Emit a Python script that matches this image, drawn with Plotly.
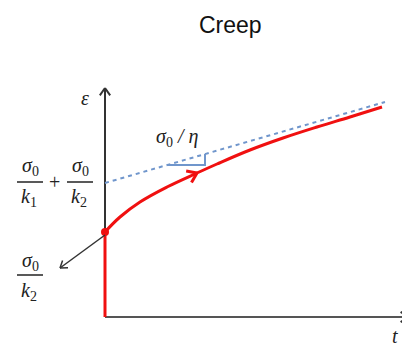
import numpy as np
import plotly.graph_objects as go

# datos (t, deformacion) en unidades arbitrarias
t_inst = [0, 0]
eps_inst = [0, 85]

t_creep = [0, 15, 35, 62, 92, 112, 145, 178, 212, 245, 277]
eps_creep = [85, 100, 115, 130, 144, 153, 167, 179, 190, 200, 210]

t_asint = [0, 280]
eps_asint = [134, 215]

# triangulo de pendiente sigma0/eta
t_tri = [62, 100, 100]
eps_tri = [152, 152, 163]

t_max, eps_max = 303, 229

ROJO = "#f01010"
AZUL = "#7096cc"
NEGRO = "#333333"


def chevron(tip, desde, largo=9, ang=35):
    # flecha abierta en la punta tip, apuntando desde 'desde'
    d = np.array(tip, float) - np.array(desde, float)
    d = d / np.linalg.norm(d)
    xs, ys = [], []
    for s in (1, -1):
        a = np.radians(180 + s * ang)
        r = np.array([d[0] * np.cos(a) - d[1] * np.sin(a), d[0] * np.sin(a) + d[1] * np.cos(a)])
        p = np.array(tip) + largo * r
        xs += [p[0], tip[0], None]
        ys += [p[1], tip[1], None]
    return xs, ys


fig = go.Figure()

# ejes dibujados
fig.add_trace(go.Scatter(x=[0, 0], y=[0, eps_max], mode="lines", line=dict(color=NEGRO, width=2)))
fig.add_trace(go.Scatter(x=[0, t_max], y=[0, 0], mode="lines", line=dict(color="#555555", width=2)))
for tip, desde in [((0, eps_max), (0, 0)), ((t_max, 0), (0, 0))]:
    cx, cy = chevron(tip, desde)
    fig.add_trace(go.Scatter(x=cx, y=cy, mode="lines", line=dict(color=NEGRO, width=2)))

# asintota
fig.add_trace(go.Scatter(x=t_asint, y=eps_asint, mode="lines",
                         line=dict(color=AZUL, width=2, dash="4px,4px")))
fig.add_trace(go.Scatter(x=t_tri, y=eps_tri, mode="lines", line=dict(color=AZUL, width=2)))

# curva de fluencia
fig.add_trace(go.Scatter(x=t_inst, y=eps_inst, mode="lines", line=dict(color=ROJO, width=3)))
fig.add_trace(go.Scatter(x=t_creep, y=eps_creep, mode="lines",
                         line=dict(color=ROJO, width=3, shape="spline", smoothing=1.1)))
fig.add_trace(go.Scatter(x=[t_inst[-1]], y=[eps_inst[-1]], mode="markers",
                         marker=dict(color=ROJO, size=8)))
cx, cy = chevron((t_creep[4], eps_creep[4]), (t_creep[3], eps_creep[3]), largo=11)
fig.add_trace(go.Scatter(x=cx, y=cy, mode="lines", line=dict(color=ROJO, width=3)))

# flecha hacia sigma0/k2
fig.add_trace(go.Scatter(x=[0, -45], y=[82, 49], mode="lines", line=dict(color=NEGRO, width=1.5)))
cx, cy = chevron((-45, 49), (0, 82), largo=8)
fig.add_trace(go.Scatter(x=cx, y=cy, mode="lines", line=dict(color=NEGRO, width=1.5)))

fuente = dict(family="Liberation Serif", size=20, color="#222222")
textos = [
    (-20, 219, "<i>ε</i>"),
    (290, -19, "<i>t</i>"),
    (72, 180, "<i>σ</i><sub>0</sub> <i>/ η</i>"),
    (-75, 56, "<i>σ</i><sub>0</sub>"),
    (-76, 26, "<i>k</i><sub>2</sub>"),
    (-75, 151, "<i>σ</i><sub>0</sub>"),
    (-76, 120, "<i>k</i><sub>1</sub>"),
    (-25, 151, "<i>σ</i><sub>0</sub>"),
    (-26, 120, "<i>k</i><sub>2</sub>"),
    (-51, 135, "+"),
]
for x, y, s in textos:
    fig.add_annotation(x=x, y=y, text=s, showarrow=False, font=fuente)
for x0, x1, y in [(-88, -62, 42), (-88, -62, 135), (-38, -12, 135)]:
    fig.add_shape(type="line", x0=x0, x1=x1, y0=y, y1=y, line=dict(color="#222222", width=1.5))

fig.add_annotation(x=125, y=292, text="Creep", showarrow=False,
                   font=dict(family="Liberation Sans", size=23, color="#111111"))

# la pagina desplaza la figura 8 px, se compensa en los rangos
fig.update_layout(
    width=410, height=346, margin=dict(l=0, r=0, t=0, b=0),
    showlegend=False, plot_bgcolor="white", paper_bgcolor="white",
    xaxis=dict(range=[-97, 313], visible=False),
    yaxis=dict(range=[-37, 309], visible=False),
)
fig.write_html("out.html")
